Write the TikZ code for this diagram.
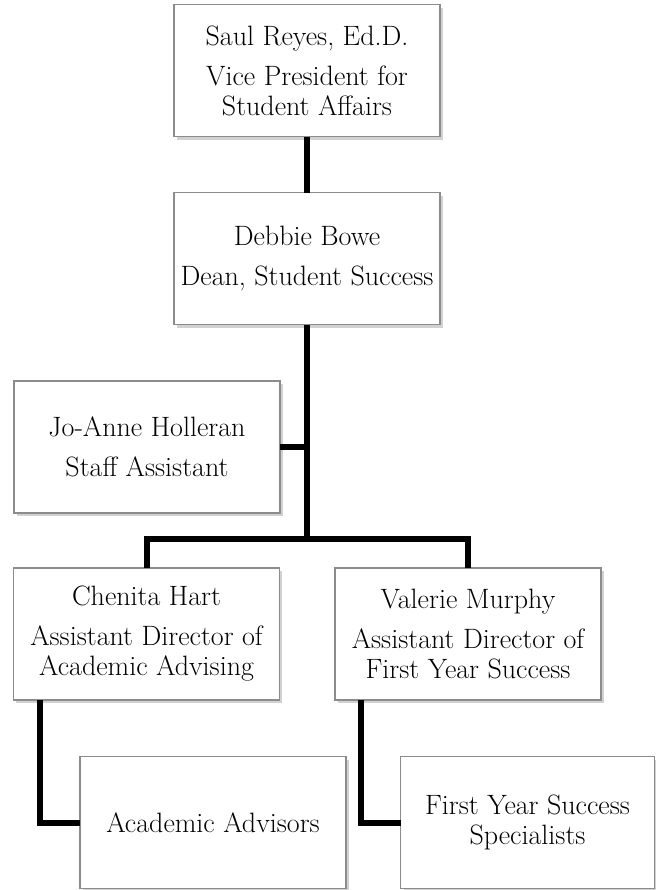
\documentclass[tikz,border=0pt]{standalone}
\usepackage{tikz}
\usetikzlibrary{positioning,shadows}
\definecolor{orgedge}{RGB}{140,140,140}
\definecolor{orglink}{RGB}{0,0,0}
\tikzset{
  orgbox/.style={
    draw=orgedge, line width=0.9pt, fill=white, align=center,
    inner sep=0pt, outer sep=0pt, minimum width=199.5pt, minimum height=99pt,
    font=\fontsize{21}{22.5}\selectfont,
    drop shadow={shadow xshift=2pt, shadow yshift=-2.5pt, fill=black!60, opacity=0.3}
  },
  link/.style={draw=orglink, line width=4.5pt}
}

\begin{document}
\begin{tikzpicture}[x=0.75pt,y=-0.75pt]
  \useasboundingbox (0,0) rectangle (656,890);
  \node[orgbox] (vp) at (307,70.5)
    {Saul Reyes, Ed.D.\\[7.5pt] Vice President for\\ Student Affairs};
  \node[orgbox] (dean) at (307,258.5)
    {Debbie Bowe\\[7.5pt] Dean, Student Success};
  \node[orgbox] (staff) at (147,447)
    {Jo-Anne Holleran\\[7.5pt] Staff Assistant};
  \node[orgbox] (chenita) at (146.5,634)
    {Chenita Hart\\[7.5pt] Assistant Director of\\ Academic Advising};
  \node[orgbox] (valerie) at (468,634)
    {Valerie Murphy\\[7.5pt] Assistant Director of\\ First Year Success};
  \node[orgbox] (advisors) at (213,822.5) {Academic Advisors};
  \node[orgbox, minimum width=190pt] (specialists) at (527.5,822.5)
    {First Year Success\\ Specialists};
  \coordinate (split) at (307,539);
  \draw[link] (vp.south) -- (dean.north);
  \draw[link] (dean.south) -- (split);
  \draw[link] (staff.east) -- (staff.east -| split);
  \draw[link] (chenita.north) |- (split) -| (valerie.north);
  \draw[link] ([xshift=19.5pt]chenita.south west) |- (advisors.west);
  \draw[link] ([xshift=19.5pt]valerie.south west) |- (specialists.west);
\end{tikzpicture}
\end{document}
